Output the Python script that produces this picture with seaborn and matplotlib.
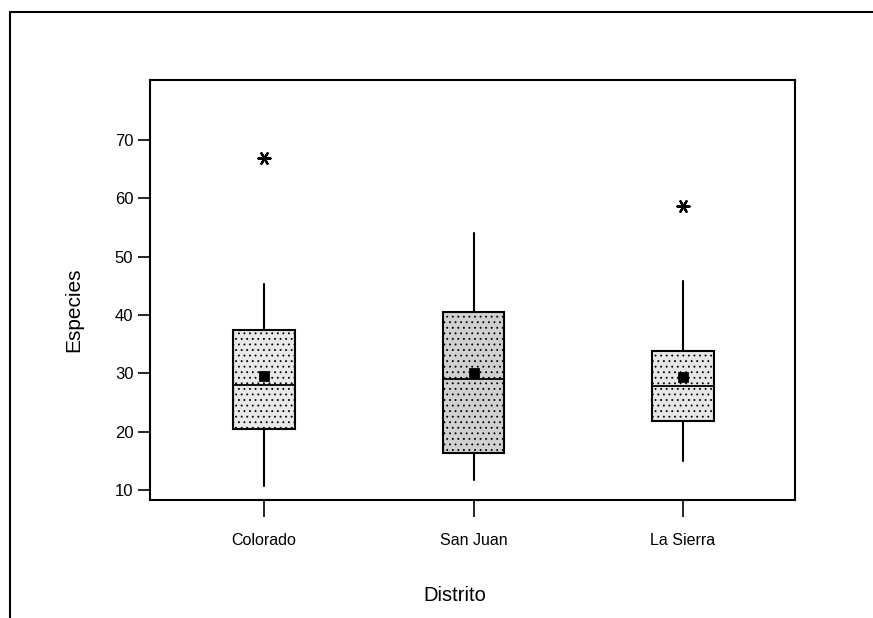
import numpy as np
import matplotlib.pyplot as plt
import seaborn as sns
from matplotlib.lines import Line2D

# values (Minitab-style boxplot)
distritos = ['Colorado', 'San Juan', 'La Sierra']
bigote_inf = [10.7, 11.8, 14.9]
q1 = [20.4, 16.3, 21.8]
mediana = [28.0, 29.0, 27.9]
q3 = [37.4, 40.5, 33.8]
bigote_sup = [45.3, 54.0, 45.9]
medias = [29.5, 30.1, 29.3]
atipicos = [[67.0], [], [58.7]]
relleno = ['#e8e8e8', '#d0d0d0', '#e6e6e6']

sns.set_theme(style='ticks')
plt.rcParams['font.family'] = ['Liberation Sans', 'DejaVu Sans']
plt.rcParams['hatch.linewidth'] = 0.6

fig = plt.figure(figsize=(8.73, 6.18), dpi=100)
ax = fig.add_axes([150/873, 118/618, 645/873, 420/618])

stats = []
for i, d in enumerate(distritos):
    stats.append(dict(label=d, med=mediana[i], q1=q1[i], q3=q3[i],
                      whislo=bigote_inf[i], whishi=bigote_sup[i], fliers=[]))

pos = np.arange(len(distritos))
res = ax.bxp(stats, positions=pos, widths=0.295, patch_artist=True,
             showcaps=False, showfliers=False,
             boxprops=dict(edgecolor='black', linewidth=1.5),
             medianprops=dict(color='black', linewidth=1.3),
             whiskerprops=dict(color='black', linewidth=1.5))
for caja, c in zip(res['boxes'], relleno):
    caja.set_facecolor(c)
    caja.set_hatch('...')

# means
sns.scatterplot(x=pos, y=medias, marker='s', color='black', s=45,
                edgecolor='black', ax=ax, zorder=5)

# outliers
ox = [pos[i] for i, vals in enumerate(atipicos) for _ in vals]
oy = [v for vals in atipicos for v in vals]
sns.scatterplot(x=ox, y=oy, marker=(6, 2, 90), color='black', s=75,
                linewidth=1.6, ax=ax, zorder=5)

ax.set_xlim(-0.545, 2.535)
ax.set_ylim(8.29, 80.3)
ax.set_yticks([10, 20, 30, 40, 50, 60, 70])
ax.set_xticks(pos, distritos)
for s in ax.spines.values():
    s.set_linewidth(1.5)
    s.set_color('black')
ax.tick_params(axis='y', direction='out', length=9, width=1.2, pad=3,
               labelsize=12, color='black', labelcolor='black')
ax.tick_params(axis='x', direction='out', length=12, width=1.2, pad=12,
               labelsize=11.5, color='black', labelcolor='black')

ax.set_xlabel('Distrito', fontsize=14.5, color='black')
ax.xaxis.set_label_coords(0.473, -0.205)
ax.set_ylabel('Especies', fontsize=15, color='black')
ax.yaxis.set_label_coords(-0.104, 0.452)

# outer frame of the scanned page
fig.add_artist(Line2D([10/873, 1], [1 - 12/618, 1 - 12/618], color='black', lw=1.5))
fig.add_artist(Line2D([10/873, 10/873], [0, 1 - 12/618], color='black', lw=1.5))

fig.savefig('out.png', dpi=100)
